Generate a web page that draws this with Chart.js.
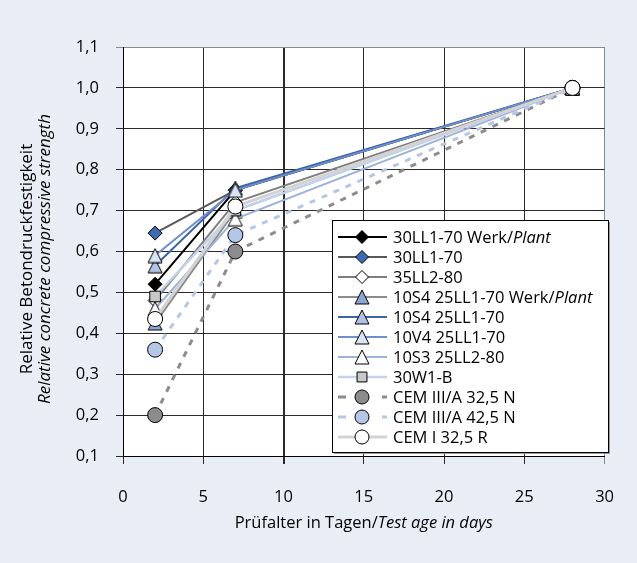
<!DOCTYPE html>
<html lang="de">
<head>
<meta charset="UTF-8">
<title>Relative Betondruckfestigkeit</title>
<script src="https://cdn.jsdelivr.net/npm/chart.js@4"></script>
<style>
    html, body { margin: 0; padding: 0; background: #e9eef6; }
    .chart-box { position: relative; width: 637px; height: 563px; }
</style>
</head>
<body>
<div class="chart-box"><canvas id="strengthChart" width="637" height="563"></canvas></div>
<script>
// test ages (days) and relative strength per mix
const testDays = [2, 7, 28];
const seriesNames = [
    '30LL1-70 Werk/Plant', '30LL1-70', '35LL2-80', '10S4 25LL1-70 Werk/Plant',
    '10S4 25LL1-70', '10V4 25LL1-70', '10S3 25LL2-80', '30W1-B',
    'CEM III/A 32,5 N', 'CEM III/A 42,5 N', 'CEM I 32,5 R'
];
const s30LL1Werk = [0.52, 0.75, 1.0];
const s30LL1 = [0.645, 0.75, 1.0];
const s35LL2 = [0.48, 0.72, 1.0];
const s10S4Werk = [0.425, 0.70, 1.0];
const s10S4 = [0.565, 0.755, 1.0];
const s10V4 = [0.59, 0.75, 1.0];
const s10S3 = [0.46, 0.68, 1.0];
const s30W1B = [0.49, 0.70, 1.0];
const sCem3A325 = [0.20, 0.60, 1.0];
const sCem3A425 = [0.36, 0.64, 1.0];
const sCem1325 = [0.435, 0.71, 1.0];
const xTickLabels = ['0', '5', '10', '15', '20', '25', '30'];
const yTickLabels = ['0,1', '0,2', '0,3', '0,4', '0,5', '0,6', '0,7', '0,8', '0,9', '1,0', '1,1'];

const allValues = [s30LL1Werk, s30LL1, s35LL2, s10S4Werk, s10S4, s10V4, s10S3, s30W1B, sCem3A325, sCem3A425, sCem1325];

// triangles centred on their box (like the spreadsheet markers), not on the centroid
function makeTriangle(fill) {
    const c = document.createElement('canvas');
    c.width = 16;
    c.height = 16;
    const g = c.getContext('2d');
    g.beginPath();
    g.moveTo(8, 1);
    g.lineTo(15, 15);
    g.lineTo(1, 15);
    g.closePath();
    g.fillStyle = fill;
    g.fill();
    g.strokeStyle = '#000000';
    g.lineWidth = 1;
    g.stroke();
    return c;
}

// look of each series: line colour, width, dash, marker, marker fill
const looks = [
    { line: '#000000', w: 2, dash: [], pt: 'rectRot', r: 7, fill: '#000000' },
    { line: '#595959', w: 2, dash: [], pt: 'rectRot', r: 7, fill: '#3d6bb3' },
    { line: '#7f7f7f', w: 2, dash: [], pt: 'rectRot', r: 7, fill: '#ffffff' },
    { line: '#8c8c8c', w: 2, dash: [], pt: makeTriangle('#8ba4d0'), r: 8, fill: '#8ba4d0' },
    { line: '#3b64ad', w: 2, dash: [], pt: makeTriangle('#b0c3e4'), r: 8, fill: '#b0c3e4' },
    { line: '#6f8fcc', w: 2, dash: [], pt: makeTriangle('#dbe4f2'), r: 8, fill: '#dbe4f2' },
    { line: '#9bb2dc', w: 2, dash: [], pt: makeTriangle('#ffffff'), r: 8, fill: '#ffffff' },
    { line: '#c3d2ec', w: 2.5, dash: [], pt: 'rect', r: 7.5, fill: '#c8c8c8' },
    { line: '#8c8c8c', w: 3, dash: [6, 7], pt: 'circle', r: 7.5, fill: '#8c8c8c' },
    { line: '#b4c7e7', w: 3, dash: [6, 7], pt: 'circle', r: 7.5, fill: '#b4c7e7' },
    { line: '#d3d3d3', w: 3, dash: [], pt: 'circle', r: 7.5, fill: '#ffffff' }
];

const FONT_FAMILY = '"Open Sans", "Noto Sans", sans-serif';

const datasets = seriesNames.map((name, i) => ({
    label: name,
    data: testDays.map((d, k) => ({ x: d, y: allValues[i][k] })),
    borderColor: looks[i].line,
    borderWidth: looks[i].w,
    borderDash: looks[i].dash,
    pointStyle: looks[i].pt,
    pointRadius: looks[i].r,
    pointBackgroundColor: looks[i].fill,
    pointBorderColor: '#000000',
    pointBorderWidth: 1,
    tension: 0,
    // later series sit on top, like in the original
    order: seriesNames.length - i
}));

function drawParts(ctx, parts, x, y, align, size) {
    let total = 0;
    parts.forEach(p => {
        ctx.font = (p.it ? 'italic ' : '') + size + 'px ' + FONT_FAMILY;
        p.w = ctx.measureText(p.t).width;
        total += p.w;
    });
    let cx = align === 'center' ? x - total / 2 : x;
    ctx.textAlign = 'left';
    parts.forEach(p => {
        ctx.font = (p.it ? 'italic ' : '') + size + 'px ' + FONT_FAMILY;
        ctx.fillText(p.t, cx, y);
        cx += p.w;
    });
}

function labelParts(name) {
    if (name.includes('Werk/')) {
        const cut = name.indexOf('Werk/') + 5;
        return [{ t: name.slice(0, cut), it: false }, { t: name.slice(cut), it: true }];
    }
    return [{ t: name, it: false }];
}

const backdrop = {
    id: 'backdrop',
    beforeDraw(chart) {
        const { ctx, chartArea: a } = chart;
        ctx.save();
        ctx.fillStyle = '#e9eef6';
        ctx.fillRect(0, 0, chart.width, chart.height);
        ctx.fillStyle = '#ffffff';
        ctx.fillRect(a.left, a.top, a.right - a.left, a.bottom - a.top);
        ctx.restore();
    }
};

const extras = {
    id: 'extras',
    afterDraw(chart) {
        const ctx = chart.ctx;
        const a = chart.chartArea;
        ctx.save();
        ctx.fillStyle = '#000000';
        ctx.textBaseline = 'middle';

        // axis titles
        drawParts(ctx, [{ t: 'Prüfalter in Tagen/', it: false }, { t: 'Test age in days', it: true }],
            (a.left + a.right) / 2, 523, 'center', 16.5);
        ctx.save();
        ctx.translate(27, 259);
        ctx.rotate(-Math.PI / 2);
        drawParts(ctx, [{ t: 'Relative Betondruckfestigkeit', it: false }], 0, 0, 'center', 17);
        drawParts(ctx, [{ t: 'Relative concrete compressive strength', it: true }], 0, 18, 'center', 17);
        ctx.restore();

        // legend box
        const box = { x: 332, y: 220, w: 276, h: 232 };
        ctx.fillStyle = '#9a9a9a';
        ctx.fillRect(box.x + 2, box.y + 2, box.w, box.h);
        ctx.fillStyle = '#ffffff';
        ctx.fillRect(box.x, box.y, box.w, box.h);
        ctx.strokeStyle = '#000000';
        ctx.lineWidth = 1;
        ctx.strokeRect(box.x + 0.5, box.y + 0.5, box.w, box.h);

        seriesNames.forEach((name, i) => {
            const y = 237 + i * 20;
            const lk = looks[i];
            ctx.save();
            ctx.strokeStyle = lk.line;
            ctx.lineWidth = lk.w;
            ctx.setLineDash(lk.dash.length ? [8, 14] : []);
            ctx.beginPath();
            ctx.moveTo(338, y);
            ctx.lineTo(387, y);
            ctx.stroke();
            ctx.restore();
            ctx.save();
            ctx.fillStyle = lk.fill;
            ctx.strokeStyle = '#000000';
            ctx.lineWidth = 1;
            Chart.helpers.drawPoint(ctx, { pointStyle: lk.pt, rotation: 0, radius: lk.r - 0.5, borderWidth: 1 }, 362, y);
            ctx.restore();
            ctx.fillStyle = '#000000';
            ctx.textBaseline = 'middle';
            drawParts(ctx, labelParts(name), 393, y + 1, 'left', 16.5);
        });
        ctx.restore();
    }
};

new Chart(document.getElementById('strengthChart'), {
    type: 'line',
    data: { datasets: datasets },
    plugins: [backdrop, extras],
    options: {
        responsive: false,
        animation: false,
        layout: { padding: { top: 47, right: 23, left: 0, bottom: 0 } },
        plugins: { legend: { display: false }, tooltip: { enabled: false } },
        scales: {
            x: {
                type: 'linear',
                min: 0,
                max: 30,
                afterFit(scale) { scale.height = 107; },
                ticks: {
                    stepSize: 5,
                    callback: (v, i) => xTickLabels[i],
                    color: '#000000',
                    font: { family: FONT_FAMILY, size: 16.5 },
                    padding: 23,
                    maxRotation: 0
                },
                grid: {
                    color: c => (c.tick && c.tick.value === 30) ? '#8a8a8a' : '#2a2a2a',
                    lineWidth: c => (c.tick && c.tick.value === 10) ? 2 : 1,
                    tickLength: 8
                },
                border: { color: '#000000', width: 1 }
            },
            y: {
                min: 0.1,
                max: 1.1,
                afterFit(scale) { scale.width = 123; },
                ticks: {
                    stepSize: 0.1,
                    callback: (v, i) => yTickLabels[i],
                    color: '#000000',
                    font: { family: FONT_FAMILY, size: 16.5 },
                    padding: 17
                },
                grid: {
                    color: c => (c.tick && Math.abs(c.tick.value - 1.1) < 1e-6) ? '#8a8a8a' : '#2a2a2a',
                    lineWidth: 1,
                    tickLength: 7
                },
                border: { color: '#000000', width: 1 }
            }
        }
    }
});
</script>
</body>
</html>
